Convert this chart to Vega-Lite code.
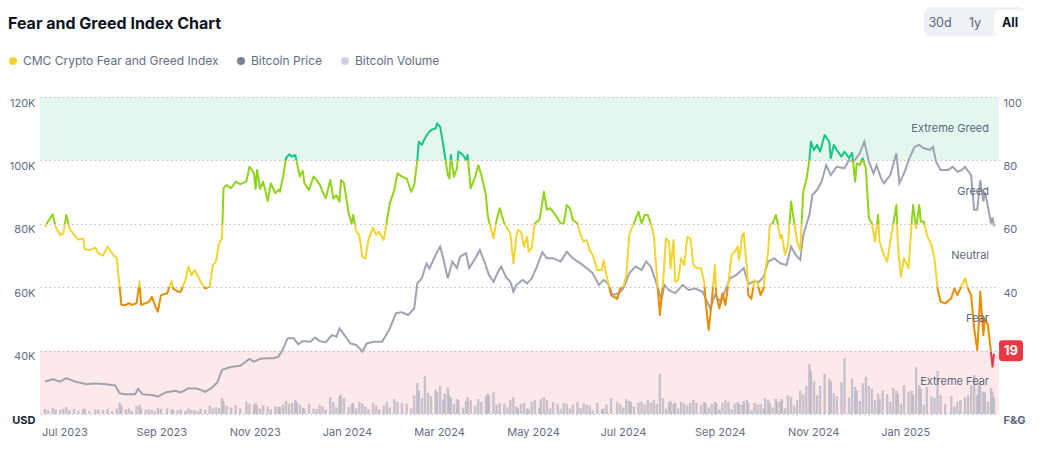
{
  "$schema": "https://vega.github.io/schema/vega-lite/v6.json",
  "width": 959,
  "height": 317,
  "autosize": "none",
  "padding": {"left": 40, "top": 97, "right": 46, "bottom": 37},
  "background": "white",
  "title": {
    "text": "Fear and Greed Index Chart",
    "anchor": "start",
    "dx": 1,
    "offset": -25,
    "font": "Inter",
    "fontSize": 16,
    "fontWeight": "bold",
    "color": "#0d1421"
  },
  "config": {"view": {"stroke": null}, "font": "Inter"},
  "datasets": {
    "zones": [
      {"zone": "Extreme Greed", "lo": 80, "hi": 100, "mid": 90},
      {"zone": "Greed", "lo": 60, "hi": 80, "mid": 70},
      {"zone": "Neutral", "lo": 40, "hi": 60, "mid": 50},
      {"zone": "Fear", "lo": 20, "hi": 40, "mid": 30},
      {"zone": "Extreme Fear", "lo": 0, "hi": 20, "mid": 10}
    ],
    "fg": [
      {"date": "2023-06-30", "fg": 59, "vol": 11},
      {"date": "2023-07-02", "fg": 60.7, "vol": 8},
      {"date": "2023-07-05", "fg": 63, "vol": 13},
      {"date": "2023-07-07", "fg": 59, "vol": 10},
      {"date": "2023-07-10", "fg": 56.5, "vol": 9},
      {"date": "2023-07-12", "fg": 57, "vol": 12},
      {"date": "2023-07-14", "fg": 62.8, "vol": 15},
      {"date": "2023-07-16", "fg": 58.6, "vol": 8},
      {"date": "2023-07-19", "fg": 56.5, "vol": 11},
      {"date": "2023-07-22", "fg": 55, "vol": 7},
      {"date": "2023-07-25", "fg": 55.4, "vol": 10},
      {"date": "2023-07-26", "fg": 52, "vol": 12},
      {"date": "2023-07-29", "fg": 51.7, "vol": 6},
      {"date": "2023-08-02", "fg": 52.5, "vol": 10},
      {"date": "2023-08-04", "fg": 50.7, "vol": 9},
      {"date": "2023-08-07", "fg": 50, "vol": 8},
      {"date": "2023-08-10", "fg": 52.8, "vol": 11},
      {"date": "2023-08-13", "fg": 50.7, "vol": 6},
      {"date": "2023-08-16", "fg": 49, "vol": 12},
      {"date": "2023-08-18", "fg": 40, "vol": 24},
      {"date": "2023-08-19", "fg": 34.4, "vol": 18},
      {"date": "2023-08-22", "fg": 34.4, "vol": 10},
      {"date": "2023-08-24", "fg": 35, "vol": 12},
      {"date": "2023-08-26", "fg": 34.4, "vol": 6},
      {"date": "2023-08-29", "fg": 35, "vol": 17},
      {"date": "2023-08-31", "fg": 41.7, "vol": 20},
      {"date": "2023-09-01", "fg": 34.4, "vol": 12},
      {"date": "2023-09-04", "fg": 35, "vol": 8},
      {"date": "2023-09-06", "fg": 35.3, "vol": 10},
      {"date": "2023-09-08", "fg": 37, "vol": 9},
      {"date": "2023-09-10", "fg": 34.4, "vol": 6},
      {"date": "2023-09-12", "fg": 32.3, "vol": 13},
      {"date": "2023-09-14", "fg": 37.5, "vol": 11},
      {"date": "2023-09-18", "fg": 38, "vol": 12},
      {"date": "2023-09-21", "fg": 42, "vol": 10},
      {"date": "2023-09-22", "fg": 39.6, "vol": 9},
      {"date": "2023-09-25", "fg": 38.6, "vol": 8},
      {"date": "2023-09-27", "fg": 38.6, "vol": 10},
      {"date": "2023-09-30", "fg": 42.3, "vol": 7},
      {"date": "2023-10-02", "fg": 46.5, "vol": 12},
      {"date": "2023-10-04", "fg": 43.8, "vol": 9},
      {"date": "2023-10-06", "fg": 45.4, "vol": 8},
      {"date": "2023-10-08", "fg": 43.8, "vol": 6},
      {"date": "2023-10-10", "fg": 41.7, "vol": 11},
      {"date": "2023-10-13", "fg": 39.6, "vol": 9},
      {"date": "2023-10-16", "fg": 40.2, "vol": 18},
      {"date": "2023-10-18", "fg": 47, "vol": 12},
      {"date": "2023-10-20", "fg": 48, "vol": 15},
      {"date": "2023-10-22", "fg": 53.8, "vol": 13},
      {"date": "2023-10-24", "fg": 55.4, "vol": 34},
      {"date": "2023-10-25", "fg": 71.2, "vol": 28},
      {"date": "2023-10-27", "fg": 72.2, "vol": 18},
      {"date": "2023-10-30", "fg": 71.2, "vol": 14},
      {"date": "2023-11-02", "fg": 73.3, "vol": 19},
      {"date": "2023-11-05", "fg": 72.5, "vol": 12},
      {"date": "2023-11-09", "fg": 73.3, "vol": 27},
      {"date": "2023-11-11", "fg": 78, "vol": 22},
      {"date": "2023-11-14", "fg": 76, "vol": 20},
      {"date": "2023-11-15", "fg": 71, "vol": 24},
      {"date": "2023-11-16", "fg": 77, "vol": 18},
      {"date": "2023-11-18", "fg": 71, "vol": 12},
      {"date": "2023-11-20", "fg": 73.3, "vol": 19},
      {"date": "2023-11-23", "fg": 67.2, "vol": 16},
      {"date": "2023-11-25", "fg": 72.8, "vol": 10},
      {"date": "2023-11-28", "fg": 69.6, "vol": 17},
      {"date": "2023-11-30", "fg": 70.7, "vol": 15},
      {"date": "2023-12-01", "fg": 70.1, "vol": 16},
      {"date": "2023-12-03", "fg": 74.9, "vol": 20},
      {"date": "2023-12-05", "fg": 80.7, "vol": 28},
      {"date": "2023-12-07", "fg": 81.9, "vol": 22},
      {"date": "2023-12-09", "fg": 81.2, "vol": 24},
      {"date": "2023-12-11", "fg": 81.7, "vol": 30},
      {"date": "2023-12-12", "fg": 79.6, "vol": 26},
      {"date": "2023-12-14", "fg": 74.9, "vol": 20},
      {"date": "2023-12-16", "fg": 76.7, "vol": 14},
      {"date": "2023-12-17", "fg": 72.8, "vol": 12},
      {"date": "2023-12-20", "fg": 70.7, "vol": 22},
      {"date": "2023-12-23", "fg": 74.9, "vol": 12},
      {"date": "2023-12-25", "fg": 73.8, "vol": 11},
      {"date": "2023-12-27", "fg": 72.5, "vol": 20},
      {"date": "2023-12-29", "fg": 70.1, "vol": 16},
      {"date": "2023-12-31", "fg": 68, "vol": 9},
      {"date": "2024-01-03", "fg": 73.8, "vol": 36},
      {"date": "2024-01-05", "fg": 68, "vol": 25},
      {"date": "2024-01-07", "fg": 69, "vol": 14},
      {"date": "2024-01-09", "fg": 67, "vol": 38},
      {"date": "2024-01-10", "fg": 73.8, "vol": 42},
      {"date": "2024-01-12", "fg": 72.8, "vol": 34},
      {"date": "2024-01-15", "fg": 63.3, "vol": 15},
      {"date": "2024-01-17", "fg": 60.1, "vol": 22},
      {"date": "2024-01-18", "fg": 62.8, "vol": 24},
      {"date": "2024-01-20", "fg": 57.5, "vol": 12},
      {"date": "2024-01-22", "fg": 56.5, "vol": 26},
      {"date": "2024-01-24", "fg": 49.6, "vol": 22},
      {"date": "2024-01-26", "fg": 49.1, "vol": 16},
      {"date": "2024-01-28", "fg": 54.9, "vol": 10},
      {"date": "2024-01-31", "fg": 58.8, "vol": 24},
      {"date": "2024-02-02", "fg": 56.5, "vol": 18},
      {"date": "2024-02-04", "fg": 57.5, "vol": 10},
      {"date": "2024-02-07", "fg": 54.9, "vol": 18},
      {"date": "2024-02-09", "fg": 60.7, "vol": 26},
      {"date": "2024-02-11", "fg": 66.5, "vol": 14},
      {"date": "2024-02-14", "fg": 70.7, "vol": 32},
      {"date": "2024-02-16", "fg": 75.9, "vol": 26},
      {"date": "2024-02-19", "fg": 74.9, "vol": 24},
      {"date": "2024-02-22", "fg": 74.3, "vol": 22},
      {"date": "2024-02-25", "fg": 70.1, "vol": 12},
      {"date": "2024-02-27", "fg": 72.2, "vol": 40},
      {"date": "2024-02-29", "fg": 80.1, "vol": 66},
      {"date": "2024-03-01", "fg": 85.9, "vol": 50},
      {"date": "2024-03-03", "fg": 84.9, "vol": 34},
      {"date": "2024-03-05", "fg": 87, "vol": 81},
      {"date": "2024-03-07", "fg": 88.5, "vol": 45},
      {"date": "2024-03-09", "fg": 89.6, "vol": 38},
      {"date": "2024-03-12", "fg": 90.1, "vol": 52},
      {"date": "2024-03-13", "fg": 91.7, "vol": 48},
      {"date": "2024-03-15", "fg": 90.6, "vol": 60},
      {"date": "2024-03-17", "fg": 84.9, "vol": 30},
      {"date": "2024-03-18", "fg": 81.7, "vol": 44},
      {"date": "2024-03-20", "fg": 75.4, "vol": 56},
      {"date": "2024-03-21", "fg": 74.3, "vol": 40},
      {"date": "2024-03-22", "fg": 81.7, "vol": 35},
      {"date": "2024-03-24", "fg": 74.9, "vol": 22},
      {"date": "2024-03-26", "fg": 77.5, "vol": 32},
      {"date": "2024-03-27", "fg": 82.8, "vol": 30},
      {"date": "2024-03-30", "fg": 81.7, "vol": 14},
      {"date": "2024-04-01", "fg": 80.1, "vol": 28},
      {"date": "2024-04-02", "fg": 81.7, "vol": 36},
      {"date": "2024-04-04", "fg": 71.2, "vol": 30},
      {"date": "2024-04-07", "fg": 74.9, "vol": 18},
      {"date": "2024-04-09", "fg": 78.5, "vol": 32},
      {"date": "2024-04-11", "fg": 75.4, "vol": 26},
      {"date": "2024-04-14", "fg": 69, "vol": 38},
      {"date": "2024-04-15", "fg": 63.3, "vol": 44},
      {"date": "2024-04-16", "fg": 60.7, "vol": 40},
      {"date": "2024-04-19", "fg": 55.4, "vol": 46},
      {"date": "2024-04-21", "fg": 61.2, "vol": 20},
      {"date": "2024-04-23", "fg": 64.9, "vol": 24},
      {"date": "2024-04-26", "fg": 60.1, "vol": 22},
      {"date": "2024-04-28", "fg": 58.6, "vol": 14},
      {"date": "2024-04-30", "fg": 57, "vol": 30},
      {"date": "2024-05-02", "fg": 47.5, "vol": 36},
      {"date": "2024-05-04", "fg": 56.5, "vol": 16},
      {"date": "2024-05-05", "fg": 58, "vol": 12},
      {"date": "2024-05-07", "fg": 57.5, "vol": 22},
      {"date": "2024-05-09", "fg": 52.8, "vol": 24},
      {"date": "2024-05-11", "fg": 55.9, "vol": 12},
      {"date": "2024-05-12", "fg": 51.2, "vol": 10},
      {"date": "2024-05-14", "fg": 52.3, "vol": 26},
      {"date": "2024-05-16", "fg": 60.1, "vol": 30},
      {"date": "2024-05-19", "fg": 61.2, "vol": 14},
      {"date": "2024-05-20", "fg": 63.8, "vol": 32},
      {"date": "2024-05-22", "fg": 70.1, "vol": 36},
      {"date": "2024-05-24", "fg": 64.4, "vol": 30},
      {"date": "2024-05-26", "fg": 64.9, "vol": 12},
      {"date": "2024-05-28", "fg": 63.8, "vol": 26},
      {"date": "2024-05-31", "fg": 61.7, "vol": 22},
      {"date": "2024-06-02", "fg": 60.1, "vol": 10},
      {"date": "2024-06-04", "fg": 60.1, "vol": 24},
      {"date": "2024-06-06", "fg": 65.9, "vol": 22},
      {"date": "2024-06-08", "fg": 64.9, "vol": 12},
      {"date": "2024-06-10", "fg": 61.2, "vol": 20},
      {"date": "2024-06-13", "fg": 60.1, "vol": 26},
      {"date": "2024-06-15", "fg": 56.5, "vol": 12},
      {"date": "2024-06-17", "fg": 54.4, "vol": 22},
      {"date": "2024-06-19", "fg": 54.9, "vol": 20},
      {"date": "2024-06-21", "fg": 51.7, "vol": 18},
      {"date": "2024-06-23", "fg": 50.2, "vol": 8},
      {"date": "2024-06-26", "fg": 45.4, "vol": 24},
      {"date": "2024-06-29", "fg": 45.4, "vol": 10},
      {"date": "2024-06-30", "fg": 48.6, "vol": 12},
      {"date": "2024-07-02", "fg": 43.8, "vol": 20},
      {"date": "2024-07-05", "fg": 37.5, "vol": 34},
      {"date": "2024-07-09", "fg": 36.3, "vol": 26},
      {"date": "2024-07-11", "fg": 39.6, "vol": 22},
      {"date": "2024-07-13", "fg": 40.2, "vol": 14},
      {"date": "2024-07-15", "fg": 43.8, "vol": 32},
      {"date": "2024-07-17", "fg": 56.5, "vol": 28},
      {"date": "2024-07-18", "fg": 58, "vol": 26},
      {"date": "2024-07-20", "fg": 60.1, "vol": 16},
      {"date": "2024-07-23", "fg": 63.8, "vol": 24},
      {"date": "2024-07-25", "fg": 60.1, "vol": 26},
      {"date": "2024-07-27", "fg": 62.8, "vol": 20},
      {"date": "2024-07-29", "fg": 62.8, "vol": 30},
      {"date": "2024-07-31", "fg": 60.1, "vol": 24},
      {"date": "2024-08-02", "fg": 56.5, "vol": 30},
      {"date": "2024-08-04", "fg": 43.8, "vol": 22},
      {"date": "2024-08-06", "fg": 31.2, "vol": 86},
      {"date": "2024-08-08", "fg": 40.7, "vol": 34},
      {"date": "2024-08-10", "fg": 55.4, "vol": 12},
      {"date": "2024-08-12", "fg": 54.4, "vol": 24},
      {"date": "2024-08-13", "fg": 46, "vol": 28},
      {"date": "2024-08-15", "fg": 54.9, "vol": 22},
      {"date": "2024-08-16", "fg": 41.7, "vol": 24},
      {"date": "2024-08-18", "fg": 42.3, "vol": 12},
      {"date": "2024-08-20", "fg": 49.1, "vol": 26},
      {"date": "2024-08-22", "fg": 47, "vol": 22},
      {"date": "2024-08-24", "fg": 55.9, "vol": 18},
      {"date": "2024-08-26", "fg": 55.4, "vol": 24},
      {"date": "2024-08-28", "fg": 47, "vol": 30},
      {"date": "2024-08-30", "fg": 46, "vol": 24},
      {"date": "2024-09-02", "fg": 46, "vol": 20},
      {"date": "2024-09-04", "fg": 41.7, "vol": 26},
      {"date": "2024-09-05", "fg": 35.4, "vol": 24},
      {"date": "2024-09-07", "fg": 26.5, "vol": 14},
      {"date": "2024-09-09", "fg": 35.4, "vol": 22},
      {"date": "2024-09-11", "fg": 47, "vol": 26},
      {"date": "2024-09-12", "fg": 37.5, "vol": 24},
      {"date": "2024-09-14", "fg": 33.3, "vol": 10},
      {"date": "2024-09-16", "fg": 38.1, "vol": 24},
      {"date": "2024-09-18", "fg": 34.4, "vol": 30},
      {"date": "2024-09-20", "fg": 41.7, "vol": 26},
      {"date": "2024-09-22", "fg": 50.2, "vol": 10},
      {"date": "2024-09-24", "fg": 51.2, "vol": 22},
      {"date": "2024-09-26", "fg": 52.8, "vol": 26},
      {"date": "2024-09-27", "fg": 48.6, "vol": 22},
      {"date": "2024-09-29", "fg": 56.5, "vol": 20},
      {"date": "2024-09-30", "fg": 57, "vol": 28},
      {"date": "2024-10-02", "fg": 46, "vol": 30},
      {"date": "2024-10-03", "fg": 37.5, "vol": 24},
      {"date": "2024-10-05", "fg": 36.3, "vol": 8},
      {"date": "2024-10-07", "fg": 42.3, "vol": 24},
      {"date": "2024-10-09", "fg": 41.2, "vol": 20},
      {"date": "2024-10-11", "fg": 37.5, "vol": 22},
      {"date": "2024-10-13", "fg": 39.6, "vol": 12},
      {"date": "2024-10-14", "fg": 44.9, "vol": 34},
      {"date": "2024-10-16", "fg": 51.2, "vol": 30},
      {"date": "2024-10-17", "fg": 59.6, "vol": 24},
      {"date": "2024-10-19", "fg": 60.1, "vol": 14},
      {"date": "2024-10-21", "fg": 62.8, "vol": 32},
      {"date": "2024-10-22", "fg": 60.7, "vol": 26},
      {"date": "2024-10-24", "fg": 55.4, "vol": 28},
      {"date": "2024-10-25", "fg": 56.5, "vol": 32},
      {"date": "2024-10-27", "fg": 50.2, "vol": 12},
      {"date": "2024-10-29", "fg": 53.3, "vol": 40},
      {"date": "2024-10-31", "fg": 67, "vol": 36},
      {"date": "2024-11-02", "fg": 60.7, "vol": 18},
      {"date": "2024-11-04", "fg": 54.4, "vol": 30},
      {"date": "2024-11-06", "fg": 51.7, "vol": 50},
      {"date": "2024-11-08", "fg": 70.1, "vol": 42},
      {"date": "2024-11-10", "fg": 73.8, "vol": 60},
      {"date": "2024-11-12", "fg": 80.1, "vol": 107},
      {"date": "2024-11-13", "fg": 85.9, "vol": 92},
      {"date": "2024-11-15", "fg": 83.2, "vol": 70},
      {"date": "2024-11-17", "fg": 84.9, "vol": 40},
      {"date": "2024-11-19", "fg": 82.8, "vol": 60},
      {"date": "2024-11-22", "fg": 88, "vol": 86},
      {"date": "2024-11-25", "fg": 85.9, "vol": 75},
      {"date": "2024-11-26", "fg": 80.7, "vol": 70},
      {"date": "2024-11-28", "fg": 84.9, "vol": 45},
      {"date": "2024-11-30", "fg": 83.2, "vol": 38},
      {"date": "2024-12-03", "fg": 81.2, "vol": 68},
      {"date": "2024-12-05", "fg": 82.8, "vol": 120},
      {"date": "2024-12-08", "fg": 80.7, "vol": 35},
      {"date": "2024-12-10", "fg": 82.4, "vol": 76},
      {"date": "2024-12-12", "fg": 73.3, "vol": 58},
      {"date": "2024-12-13", "fg": 79.1, "vol": 50},
      {"date": "2024-12-15", "fg": 78.5, "vol": 28},
      {"date": "2024-12-17", "fg": 80.7, "vol": 66},
      {"date": "2024-12-19", "fg": 77.5, "vol": 80},
      {"date": "2024-12-21", "fg": 61.7, "vol": 60},
      {"date": "2024-12-23", "fg": 60.1, "vol": 54},
      {"date": "2024-12-25", "fg": 54.4, "vol": 30},
      {"date": "2024-12-27", "fg": 62.8, "vol": 44},
      {"date": "2024-12-28", "fg": 54.4, "vol": 32},
      {"date": "2024-12-30", "fg": 51.2, "vol": 50},
      {"date": "2025-01-02", "fg": 48, "vol": 42},
      {"date": "2025-01-04", "fg": 54.4, "vol": 26},
      {"date": "2025-01-06", "fg": 60.1, "vol": 56},
      {"date": "2025-01-08", "fg": 65.9, "vol": 50},
      {"date": "2025-01-09", "fg": 53.3, "vol": 44},
      {"date": "2025-01-11", "fg": 43.3, "vol": 22},
      {"date": "2025-01-13", "fg": 49.1, "vol": 62},
      {"date": "2025-01-16", "fg": 46, "vol": 48},
      {"date": "2025-01-18", "fg": 60.1, "vol": 50},
      {"date": "2025-01-19", "fg": 65.9, "vol": 40},
      {"date": "2025-01-21", "fg": 58.6, "vol": 100},
      {"date": "2025-01-23", "fg": 65.9, "vol": 62},
      {"date": "2025-01-24", "fg": 60.7, "vol": 54},
      {"date": "2025-01-26", "fg": 60.7, "vol": 20},
      {"date": "2025-01-28", "fg": 56.5, "vol": 58},
      {"date": "2025-01-31", "fg": 53.3, "vol": 38},
      {"date": "2025-02-02", "fg": 49.1, "vol": 34},
      {"date": "2025-02-04", "fg": 39.6, "vol": 92},
      {"date": "2025-02-06", "fg": 35.4, "vol": 40},
      {"date": "2025-02-09", "fg": 34.9, "vol": 22},
      {"date": "2025-02-13", "fg": 36.5, "vol": 38},
      {"date": "2025-02-15", "fg": 39.6, "vol": 16},
      {"date": "2025-02-17", "fg": 37.5, "vol": 26},
      {"date": "2025-02-19", "fg": 39.6, "vol": 30},
      {"date": "2025-02-22", "fg": 42.8, "vol": 36},
      {"date": "2025-02-24", "fg": 39.6, "vol": 40},
      {"date": "2025-02-26", "fg": 37.5, "vol": 62},
      {"date": "2025-02-28", "fg": 27, "vol": 84},
      {"date": "2025-03-02", "fg": 20.2, "vol": 40},
      {"date": "2025-03-03", "fg": 28.1, "vol": 68},
      {"date": "2025-03-04", "fg": 38.6, "vol": 60},
      {"date": "2025-03-06", "fg": 24.9, "vol": 48},
      {"date": "2025-03-07", "fg": 30.2, "vol": 46},
      {"date": "2025-03-09", "fg": 28.1, "vol": 26},
      {"date": "2025-03-11", "fg": 19.7, "vol": 56},
      {"date": "2025-03-12", "fg": 14.9, "vol": 48},
      {"date": "2025-03-13", "fg": 19, "vol": 36}
    ],
    "btc": [
      {"date": "2023-06-30", "price": 30200},
      {"date": "2023-07-05", "price": 31000},
      {"date": "2023-07-10", "price": 30200},
      {"date": "2023-07-14", "price": 31300},
      {"date": "2023-07-20", "price": 30200},
      {"date": "2023-07-27", "price": 29400},
      {"date": "2023-08-02", "price": 29600},
      {"date": "2023-08-09", "price": 29400},
      {"date": "2023-08-15", "price": 29000},
      {"date": "2023-08-18", "price": 26500},
      {"date": "2023-08-22", "price": 26200},
      {"date": "2023-08-28", "price": 26200},
      {"date": "2023-08-30", "price": 27900},
      {"date": "2023-09-02", "price": 26200},
      {"date": "2023-09-08", "price": 26000},
      {"date": "2023-09-12", "price": 25500},
      {"date": "2023-09-17", "price": 26800},
      {"date": "2023-09-23", "price": 27300},
      {"date": "2023-09-27", "price": 26800},
      {"date": "2023-10-02", "price": 28100},
      {"date": "2023-10-08", "price": 28000},
      {"date": "2023-10-13", "price": 27000},
      {"date": "2023-10-17", "price": 28100},
      {"date": "2023-10-21", "price": 30000},
      {"date": "2023-10-24", "price": 33900},
      {"date": "2023-10-28", "price": 34600},
      {"date": "2023-11-01", "price": 35000},
      {"date": "2023-11-05", "price": 35200},
      {"date": "2023-11-11", "price": 37400},
      {"date": "2023-11-14", "price": 36500},
      {"date": "2023-11-18", "price": 37400},
      {"date": "2023-11-23", "price": 37600},
      {"date": "2023-11-27", "price": 37600},
      {"date": "2023-11-30", "price": 38100},
      {"date": "2023-12-03", "price": 40500},
      {"date": "2023-12-06", "price": 43900},
      {"date": "2023-12-10", "price": 43900},
      {"date": "2023-12-13", "price": 42000},
      {"date": "2023-12-16", "price": 43000},
      {"date": "2023-12-21", "price": 42800},
      {"date": "2023-12-24", "price": 44100},
      {"date": "2023-12-27", "price": 43000},
      {"date": "2023-12-31", "price": 42600},
      {"date": "2024-01-04", "price": 44900},
      {"date": "2024-01-07", "price": 44400},
      {"date": "2024-01-09", "price": 47000},
      {"date": "2024-01-12", "price": 45100},
      {"date": "2024-01-16", "price": 42300},
      {"date": "2024-01-20", "price": 41800},
      {"date": "2024-01-24", "price": 39700},
      {"date": "2024-01-27", "price": 42300},
      {"date": "2024-02-01", "price": 42800},
      {"date": "2024-02-06", "price": 42800},
      {"date": "2024-02-11", "price": 47000},
      {"date": "2024-02-15", "price": 51800},
      {"date": "2024-02-19", "price": 52100},
      {"date": "2024-02-23", "price": 51200},
      {"date": "2024-02-27", "price": 53300},
      {"date": "2024-02-29", "price": 61200},
      {"date": "2024-03-03", "price": 62800},
      {"date": "2024-03-06", "price": 67500},
      {"date": "2024-03-08", "price": 65900},
      {"date": "2024-03-12", "price": 70200},
      {"date": "2024-03-15", "price": 72800},
      {"date": "2024-03-17", "price": 69100},
      {"date": "2024-03-20", "price": 62800},
      {"date": "2024-03-23", "price": 68100},
      {"date": "2024-03-26", "price": 66000},
      {"date": "2024-03-28", "price": 69600},
      {"date": "2024-04-01", "price": 70700},
      {"date": "2024-04-03", "price": 66000},
      {"date": "2024-04-07", "price": 69100},
      {"date": "2024-04-10", "price": 71700},
      {"date": "2024-04-13", "price": 68100},
      {"date": "2024-04-16", "price": 63800},
      {"date": "2024-04-19", "price": 61700},
      {"date": "2024-04-22", "price": 64900},
      {"date": "2024-04-24", "price": 66500},
      {"date": "2024-04-27", "price": 63300},
      {"date": "2024-04-30", "price": 61700},
      {"date": "2024-05-02", "price": 58600},
      {"date": "2024-05-04", "price": 60700},
      {"date": "2024-05-08", "price": 62300},
      {"date": "2024-05-11", "price": 61200},
      {"date": "2024-05-14", "price": 62800},
      {"date": "2024-05-17", "price": 66000},
      {"date": "2024-05-21", "price": 71000},
      {"date": "2024-05-24", "price": 69100},
      {"date": "2024-05-28", "price": 69100},
      {"date": "2024-06-02", "price": 68100},
      {"date": "2024-06-06", "price": 71200},
      {"date": "2024-06-10", "price": 69100},
      {"date": "2024-06-15", "price": 67500},
      {"date": "2024-06-19", "price": 66000},
      {"date": "2024-06-23", "price": 64400},
      {"date": "2024-06-27", "price": 60700},
      {"date": "2024-06-30", "price": 62300},
      {"date": "2024-07-03", "price": 61200},
      {"date": "2024-07-06", "price": 57500},
      {"date": "2024-07-10", "price": 58100},
      {"date": "2024-07-13", "price": 59600},
      {"date": "2024-07-17", "price": 64400},
      {"date": "2024-07-21", "price": 66500},
      {"date": "2024-07-25", "price": 65400},
      {"date": "2024-07-28", "price": 68100},
      {"date": "2024-07-31", "price": 66500},
      {"date": "2024-08-03", "price": 62300},
      {"date": "2024-08-07", "price": 56000},
      {"date": "2024-08-09", "price": 60700},
      {"date": "2024-08-12", "price": 59100},
      {"date": "2024-08-16", "price": 58100},
      {"date": "2024-08-21", "price": 60700},
      {"date": "2024-08-25", "price": 59100},
      {"date": "2024-08-29", "price": 59600},
      {"date": "2024-09-03", "price": 58600},
      {"date": "2024-09-06", "price": 55400},
      {"date": "2024-09-08", "price": 53300},
      {"date": "2024-09-11", "price": 57500},
      {"date": "2024-09-15", "price": 55400},
      {"date": "2024-09-18", "price": 59100},
      {"date": "2024-09-21", "price": 62800},
      {"date": "2024-09-25", "price": 63800},
      {"date": "2024-09-30", "price": 66000},
      {"date": "2024-10-03", "price": 60900},
      {"date": "2024-10-06", "price": 61700},
      {"date": "2024-10-10", "price": 61700},
      {"date": "2024-10-13", "price": 63300},
      {"date": "2024-10-16", "price": 68100},
      {"date": "2024-10-20", "price": 69100},
      {"date": "2024-10-24", "price": 67500},
      {"date": "2024-10-28", "price": 67000},
      {"date": "2024-10-31", "price": 72800},
      {"date": "2024-11-03", "price": 70200},
      {"date": "2024-11-06", "price": 68600},
      {"date": "2024-11-08", "price": 76500},
      {"date": "2024-11-12", "price": 82800},
      {"date": "2024-11-14", "price": 89100},
      {"date": "2024-11-17", "price": 90700},
      {"date": "2024-11-20", "price": 93300},
      {"date": "2024-11-23", "price": 98500},
      {"date": "2024-11-26", "price": 95400},
      {"date": "2024-11-30", "price": 98000},
      {"date": "2024-12-05", "price": 97500},
      {"date": "2024-12-08", "price": 100100},
      {"date": "2024-12-11", "price": 99600},
      {"date": "2024-12-15", "price": 102200},
      {"date": "2024-12-18", "price": 105900},
      {"date": "2024-12-21", "price": 99600},
      {"date": "2024-12-24", "price": 95900},
      {"date": "2024-12-26", "price": 98500},
      {"date": "2024-12-29", "price": 94300},
      {"date": "2024-12-31", "price": 92800},
      {"date": "2025-01-04", "price": 95400},
      {"date": "2025-01-08", "price": 102200},
      {"date": "2025-01-10", "price": 92800},
      {"date": "2025-01-13", "price": 95900},
      {"date": "2025-01-17", "price": 101200},
      {"date": "2025-01-20", "price": 104300},
      {"date": "2025-01-23", "price": 104900},
      {"date": "2025-01-26", "price": 103800},
      {"date": "2025-01-30", "price": 103300},
      {"date": "2025-02-01", "price": 104300},
      {"date": "2025-02-03", "price": 99600},
      {"date": "2025-02-06", "price": 97000},
      {"date": "2025-02-11", "price": 97000},
      {"date": "2025-02-14", "price": 98000},
      {"date": "2025-02-17", "price": 96400},
      {"date": "2025-02-20", "price": 97000},
      {"date": "2025-02-22", "price": 98000},
      {"date": "2025-02-26", "price": 95400},
      {"date": "2025-02-28", "price": 84400},
      {"date": "2025-03-02", "price": 84400},
      {"date": "2025-03-04", "price": 93800},
      {"date": "2025-03-06", "price": 87000},
      {"date": "2025-03-07", "price": 90100},
      {"date": "2025-03-09", "price": 85400},
      {"date": "2025-03-11", "price": 80100},
      {"date": "2025-03-12", "price": 82000},
      {"date": "2025-03-13", "price": 79200}
    ]
  },
  "encoding": {
    "x": {
      "field": "date",
      "type": "temporal",
      "scale": {
        "type": "utc",
        "domain": [
          {"year": 2023, "month": 6, "date": 30, "utc": true},
          {"year": 2025, "month": 3, "date": 13, "utc": true}
        ]
      },
      "axis": {
        "title": null,
        "format": "%b %Y",
        "values": [
          {"year": 2023, "month": 7, "date": 1, "utc": true},
          {"year": 2023, "month": 9, "date": 1, "utc": true},
          {"year": 2023, "month": 11, "date": 1, "utc": true},
          {"year": 2024, "month": 1, "date": 1, "utc": true},
          {"year": 2024, "month": 3, "date": 1, "utc": true},
          {"year": 2024, "month": 5, "date": 1, "utc": true},
          {"year": 2024, "month": 7, "date": 1, "utc": true},
          {"year": 2024, "month": 9, "date": 1, "utc": true},
          {"year": 2024, "month": 11, "date": 1, "utc": true},
          {"year": 2025, "month": 1, "date": 1, "utc": true}
        ],
        "labelAlign": "left",
        "labelFlush": false,
        "labelOffset": -5,
        "labelPadding": 12,
        "labelFontSize": 11,
        "labelColor": "#616e85",
        "labelFont": "Inter",
        "ticks": false,
        "domain": false,
        "grid": false
      }
    }
  },
  "layer": [
    {
      "data": {"name": "zones"},
      "transform": [{"filter": "datum.lo == 0 || datum.hi == 100"}],
      "mark": {"type": "rect"},
      "encoding": {
        "x": {"value": 0},
        "x2": {"value": "width"},
        "y": {"field": "lo", "type": "quantitative", "scale": {"domain": [0, 100], "nice": false}, "axis": null},
        "y2": {"field": "hi"},
        "color": {"condition": {"test": "datum.zone == 'Extreme Greed'", "value": "#e4f7ef"}, "value": "#fde9ea"}
      }
    },
    {
      "data": {"name": "fg", "format": {"parse": {"date": "date"}}},
      "mark": {"type": "bar", "width": 2.4, "opacity": 0.75},
      "encoding": {
        "y": {"field": "vol", "type": "quantitative", "scale": {"domain": [0, 680], "nice": false}, "axis": null},
        "color": {
          "datum": "Bitcoin Volume",
          "scale": {
            "domain": ["CMC Crypto Fear and Greed Index", "Bitcoin Price", "Bitcoin Volume"],
            "range": ["#f3d42f", "#7b8195", "#b4b1c3"]
          },
          "legend": {
            "orient": "none",
            "legendX": -33,
            "legendY": -42,
            "direction": "horizontal",
            "title": null,
            "symbolType": "circle",
            "symbolSize": 64,
            "symbolOpacity": {"expr": "datum.value === 'Bitcoin Volume' ? 0.6 : 1"},
            "symbolStrokeWidth": 0,
            "labelOffset": 4,
            "labelLimit": 400,
            "columnPadding": 16,
            "labelFont": "Inter",
            "labelFontSize": 12,
            "labelColor": "#616e85",
            "padding": 0
          }
        }
      }
    },
    {
      "data": {"name": "btc", "format": {"parse": {"date": "date"}}},
      "mark": {"type": "line", "color": "#9ea3b4", "strokeWidth": 2},
      "encoding": {
        "y": {
          "field": "price",
          "type": "quantitative",
          "scale": {"domain": [20000, 120000], "nice": false, "zero": false},
          "axis": {
            "orient": "left",
            "title": null,
            "values": [20000, 40000, 60000, 80000, 100000, 120000],
            "labelExpr": "datum.value == 20000 ? 'USD' : (datum.value / 1000) + 'K'",
            "labelBaseline": "top",
            "labelPadding": 5,
            "labelFont": "Inter",
            "labelFontSize": 11,
            "labelColor": {"condition": {"test": "datum.value == 20000", "value": "#222531"}, "value": "#616e85"},
            "labelFontWeight": {"condition": {"test": "datum.value == 20000", "value": "bold"}, "value": "normal"},
            "labelFlush": false,
            "ticks": false,
            "domain": false,
            "grid": true,
            "gridColor": "#b8bdc7",
            "gridDash": [1.5, 3],
            "gridWidth": 1,
            "zindex": 1
          }
        },
        "strokeDash": {
          "datum": "All",
          "scale": {"domain": ["30d", "1y", "All"], "range": [[1, 0], [1, 0], [1, 0]]},
          "legend": {
            "orient": "none",
            "legendX": 884,
            "legendY": -90,
            "direction": "horizontal",
            "title": null,
            "symbolType": "M -0.625 -0.8125 L 0.625 -0.8125 Q 1 -0.8125 1 -0.4375 L 1 0.4375 Q 1 0.8125 0.625 0.8125 L -0.625 0.8125 Q -1 0.8125 -1 0.4375 L -1 -0.4375 Q -1 -0.8125 -0.625 -0.8125 Z",
            "symbolSize": 1024,
            "symbolStrokeWidth": 0,
            "symbolOpacity": 1,
            "symbolFillColor": {"expr": "datum.value === 'All' ? '#ffffff' : '#eef1f5'"},
            "labelOffset": -16,
            "labelAlign": "center",
            "columnPadding": 3,
            "padding": 0,
            "fillColor": "#eef1f5",
            "cornerRadius": 8,
            "labelFont": "Inter",
            "labelFontSize": 12.5,
            "labelColor": {"expr": "datum.value === 'All' ? '#0d1421' : '#58667e'"},
            "labelFontWeight": {"expr": "datum.value === 'All' ? 'bold' : 'normal'"}
          }
        }
      }
    },
    {
      "data": {"name": "fg", "format": {"parse": {"date": "date"}}},
      "mark": {
        "type": "line",
        "strokeWidth": 2,
        "strokeJoin": "round",
        "color": {
          "gradient": "linear",
          "x1": 0, "y1": 1, "x2": 0, "y2": 0,
          "stops": [
            {"offset": 0, "color": "#ea3943"},
            {"offset": 0.0664, "color": "#ea3943"},
            {"offset": 0.0664, "color": "#ea8c00"},
            {"offset": 0.3268, "color": "#ea8c00"},
            {"offset": 0.3268, "color": "#f3d42f"},
            {"offset": 0.5872, "color": "#f3d42f"},
            {"offset": 0.5872, "color": "#8fd418"},
            {"offset": 0.8477, "color": "#8fd418"},
            {"offset": 0.8477, "color": "#16c784"},
            {"offset": 1, "color": "#16c784"}
          ]
        }
      },
      "encoding": {
        "y": {
          "field": "fg",
          "type": "quantitative",
          "scale": {"domain": [0, 100], "nice": false},
          "axis": {
            "orient": "right",
            "title": null,
            "values": [0, 40, 60, 80, 100],
            "labelExpr": "datum.value == 0 ? 'F&G' : datum.label",
            "labelBaseline": "top",
            "labelPadding": 4,
            "labelFont": "Inter",
            "labelFontSize": 11,
            "labelColor": {"condition": {"test": "datum.value == 0", "value": "#58667e"}, "value": "#616e85"},
            "labelFontWeight": {"condition": {"test": "datum.value == 0", "value": "bold"}, "value": "normal"},
            "labelFlush": false,
            "ticks": false,
            "domain": false,
            "grid": false
          }
        }
      }
    },
    {
      "data": {"name": "zones"},
      "mark": {"type": "text", "align": "right", "baseline": "middle", "dx": -10, "font": "Inter", "fontSize": 11, "color": "#58667e"},
      "encoding": {
        "x": {"value": "width"},
        "y": {"field": "mid", "type": "quantitative", "scale": {"domain": [0, 100], "nice": false}, "axis": null},
        "text": {"field": "zone"}
      }
    },
    {
      "data": {"name": "fg", "format": {"parse": {"date": "date"}}},
      "transform": [{"aggregate": [{"op": "argmax", "field": "date", "as": "last"}]}],
      "mark": {
        "type": "point",
        "filled": true,
        "opacity": 1,
        "size": 576,
        "shape": "M -0.71 -0.875 L 0.71 -0.875 Q 1 -0.875 1 -0.585 L 1 0.585 Q 1 0.875 0.71 0.875 L -0.71 0.875 Q -1 0.875 -1 0.585 L -1 -0.585 Q -1 -0.875 -0.71 -0.875 Z",
        "color": "#ea3943",
        "xOffset": 12,
        "yOffset": -3
      },
      "encoding": {
        "x": {"value": "width"},
        "y": {"field": "last.fg", "type": "quantitative", "scale": {"domain": [0, 100], "nice": false}, "axis": null}
      }
    },
    {
      "data": {"name": "fg", "format": {"parse": {"date": "date"}}},
      "transform": [{"aggregate": [{"op": "argmax", "field": "date", "as": "last"}]}],
      "mark": {"type": "text", "align": "center", "baseline": "middle", "dx": 12, "dy": -3, "font": "Inter", "fontSize": 13, "fontWeight": "bold", "color": "white"},
      "encoding": {
        "x": {"value": "width"},
        "y": {"field": "last.fg", "type": "quantitative", "scale": {"domain": [0, 100], "nice": false}, "axis": null},
        "text": {"field": "last.fg", "type": "quantitative", "format": "d"}
      }
    }
  ],
  "resolve": {"scale": {"y": "independent"}, "axis": {"y": "independent"}}
}
